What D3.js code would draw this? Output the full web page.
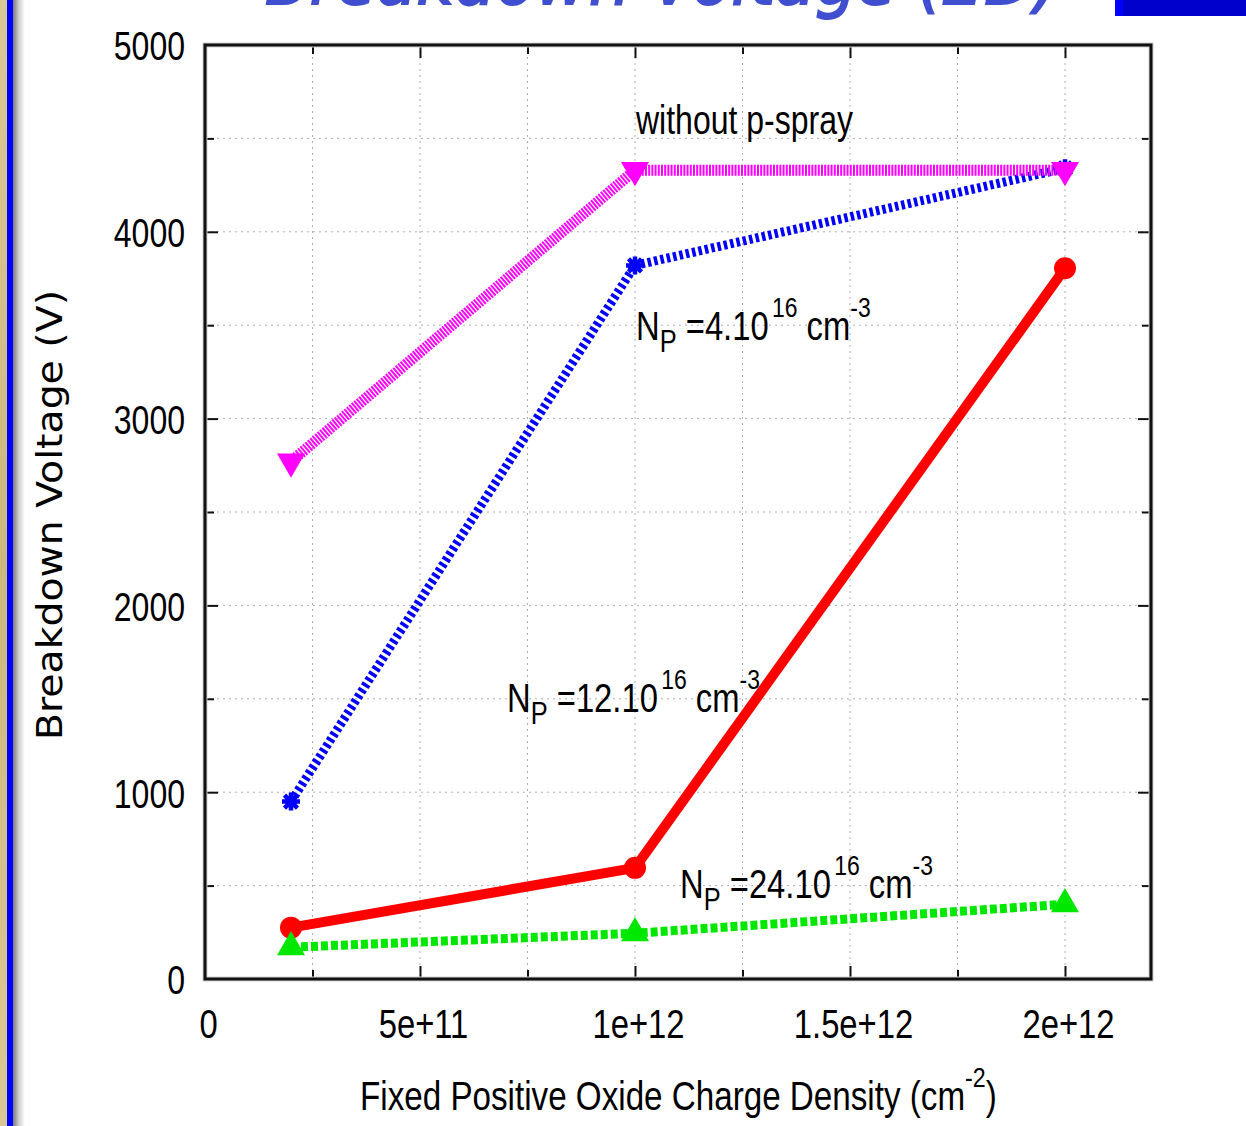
<!DOCTYPE html>
<html>
<head>
<meta charset="utf-8">
<script src="https://cdn.jsdelivr.net/npm/d3@7"></script>
<style>
  html, body { margin: 0; padding: 0; background: #fff; }
  svg { display: block; }
</style>
</head>
<body>
<div id="chart"></div>
<script>
// ---------------- data ----------------
const xValues = [2e11, 1e12, 2e12];
const withoutPSpray = [2770, 4330, 4330];   // magenta, triangle down
const np4 = [950, 3820, 4340];              // blue, star
const np12 = [275, 595, 3805];              // red, circle
const np24 = [170, 245, 400];               // green, triangle up

const xTickValues = [0, 5e11, 1e12, 1.5e12, 2e12];
const xTickLabels = ["0", "5e+11", "1e+12", "1.5e+12", "2e+12"];
const xMinorTicks = [2.5e11, 7.5e11, 1.25e12, 1.75e12];
const yTickValues = [0, 1000, 2000, 3000, 4000, 5000];
const yMinorTicks = [500, 1500, 2500, 3500, 4500];

const titleText = "Breakdown Voltage (2D)";
const xAxisTitle = "Fixed Positive Oxide Charge Density (cm";
const yAxisTitle = "Breakdown Voltage (V)";

// ---------------- layout ----------------
const W = 1246, H = 1126;
const plot = { left: 205, right: 1151, top: 45, bottom: 979 };
const CONDENSE = 0.8;
const FONT = "'Liberation Sans', Arial, Helvetica, sans-serif";

const svg = d3.select("#chart").append("svg")
  .attr("width", W).attr("height", H)
  .attr("viewBox", `0 0 ${W} ${H}`);

svg.append("rect").attr("width", W).attr("height", H).attr("fill", "#fff");

// slide decorations: left strip, blue bar, shadow
const defs = svg.append("defs");
const sh = defs.append("linearGradient").attr("id", "shadow").attr("x1", 0).attr("x2", 1).attr("y1", 0).attr("y2", 0);
sh.append("stop").attr("offset", 0).attr("stop-color", "#7a7a7a");
sh.append("stop").attr("offset", 0.5).attr("stop-color", "#d0d0d0");
sh.append("stop").attr("offset", 1).attr("stop-color", "#ffffff");
const tan = defs.append("linearGradient").attr("id", "tan").attr("x1", 0).attr("x2", 0).attr("y1", 0).attr("y2", 1);
tan.append("stop").attr("offset", 0).attr("stop-color", "#d9c897");
tan.append("stop").attr("offset", 0.5).attr("stop-color", "#cdb87c");
tan.append("stop").attr("offset", 1).attr("stop-color", "#dac894");
svg.append("rect").attr("x", 0).attr("y", 0).attr("width", 7).attr("height", H).attr("fill", "url(#tan)");
svg.append("rect").attr("x", 7).attr("y", 0).attr("width", 6).attr("height", H).attr("fill", "#0000ff");
svg.append("rect").attr("x", 13).attr("y", 0).attr("width", 12).attr("height", H).attr("fill", "url(#shadow)");

// top right blue bar
svg.append("rect").attr("x", 1115).attr("y", 0).attr("width", W - 1115).attr("height", 16).attr("fill", "#0000cc");
svg.append("rect").attr("x", 1115).attr("y", 0).attr("width", 8).attr("height", 16).attr("fill", "#0000ff");

// clipped title (only bottom visible, as in the slide)
svg.append("text")
  .attr("x", 265).attr("y", 4)
  .attr("font-family", "'DejaVu Sans', sans-serif")
  .attr("font-style", "italic")
  .attr("font-size", 72)
  .attr("stroke", "#3f4fd0").attr("stroke-width", 2)
  .attr("fill", "#3f4fd0")
  .attr("textLength", 795)
  .attr("lengthAdjust", "spacingAndGlyphs")
  .text(titleText);

// ---------------- scales ----------------
const x = d3.scaleLinear().domain([0, 2.2e12]).range([plot.left, plot.right]);
const y = d3.scaleLinear().domain([0, 5000]).range([plot.bottom, plot.top]);

// grid
const grid = svg.append("g").attr("stroke", "#b0b0b0").attr("stroke-width", 1).attr("stroke-dasharray", "2,4");
grid.selectAll("line.v").data(xMinorTicks.concat([5e11, 1e12, 1.5e12, 2e12]))
  .join("line").attr("class", "v")
  .attr("x1", d => x(d)).attr("x2", d => x(d))
  .attr("y1", plot.top).attr("y2", plot.bottom);
grid.selectAll("line.h").data(yMinorTicks.concat([1000, 2000, 3000, 4000]))
  .join("line").attr("class", "h")
  .attr("x1", plot.left).attr("x2", plot.right)
  .attr("y1", d => y(d)).attr("y2", d => y(d));

// ---------------- axes ----------------
function styleAxis(g) {
  g.select(".domain").remove();
  g.selectAll(".tick line").attr("stroke", "#111").attr("stroke-width", 2);
}
const MAJ = 13, MIN = 9;

// bottom
const gxB = svg.append("g").attr("transform", `translate(0,${plot.bottom})`)
  .call(d3.axisBottom(x).tickValues(xTickValues).tickSizeInner(-MAJ).tickSizeOuter(0)
    .tickFormat((d, i) => xTickLabels[i]));
styleAxis(gxB);
gxB.selectAll(".tick text")
  .attr("y", null).attr("dy", null)
  .attr("transform", `translate(3,59) scale(${CONDENSE},1)`)
  .attr("text-anchor", "middle")
  .attr("font-family", FONT).attr("font-size", 41).attr("fill", "#000");
svg.append("g").attr("transform", `translate(0,${plot.bottom})`)
  .call(d3.axisBottom(x).tickValues(xMinorTicks).tickSizeInner(-MIN).tickSizeOuter(0).tickFormat(""))
  .call(styleAxis);

// top (mirror)
svg.append("g").attr("transform", `translate(0,${plot.top})`)
  .call(d3.axisTop(x).tickValues(xTickValues).tickSizeInner(-MAJ).tickSizeOuter(0).tickFormat(""))
  .call(styleAxis);
svg.append("g").attr("transform", `translate(0,${plot.top})`)
  .call(d3.axisTop(x).tickValues(xMinorTicks).tickSizeInner(-MIN).tickSizeOuter(0).tickFormat(""))
  .call(styleAxis);

// left
const gyL = svg.append("g").attr("transform", `translate(${plot.left},0)`)
  .call(d3.axisLeft(y).tickValues(yTickValues).tickSizeInner(-MAJ).tickSizeOuter(0).tickFormat(d => String(d)));
styleAxis(gyL);
gyL.selectAll(".tick text")
  .attr("x", null).attr("dy", null)
  .attr("dominant-baseline", "central")
  .attr("transform", `translate(-20,1) scale(${CONDENSE},1)`)
  .attr("text-anchor", "end")
  .attr("font-family", FONT).attr("font-size", 40).attr("fill", "#000");
svg.append("g").attr("transform", `translate(${plot.left},0)`)
  .call(d3.axisLeft(y).tickValues(yMinorTicks).tickSizeInner(-MIN).tickSizeOuter(0).tickFormat(""))
  .call(styleAxis);

// right (mirror)
svg.append("g").attr("transform", `translate(${plot.right},0)`)
  .call(d3.axisRight(y).tickValues(yTickValues).tickSizeInner(-MAJ).tickSizeOuter(0).tickFormat(""))
  .call(styleAxis);
svg.append("g").attr("transform", `translate(${plot.right},0)`)
  .call(d3.axisRight(y).tickValues(yMinorTicks).tickSizeInner(-MIN).tickSizeOuter(0).tickFormat(""))
  .call(styleAxis);

// frame
svg.append("rect")
  .attr("x", plot.left).attr("y", plot.top)
  .attr("width", plot.right - plot.left).attr("height", plot.bottom - plot.top)
  .attr("fill", "none").attr("stroke", "#cfcfcf").attr("stroke-width", 5);
svg.append("rect")
  .attr("x", plot.left).attr("y", plot.top)
  .attr("width", plot.right - plot.left).attr("height", plot.bottom - plot.top)
  .attr("fill", "none").attr("stroke", "#111").attr("stroke-width", 3);

// ---------------- series ----------------
const line = d3.line().x((d, i) => x(xValues[i])).y(d => y(d));

const series = [
  { vals: np12, color: "#ff0000", width: 10, dash: null, marker: "circle" },
  { vals: np24, color: "#00e800", width: 9, dash: "7,3", marker: "triUp" },
  { vals: np4, color: "#0000ff", width: 9, dash: "3.5,3", marker: "star" },
  { vals: withoutPSpray, color: "#ff00ff", width: 11, dash: "2,1.2", marker: "triDown" }
];

const triSym = d3.symbol().type(d3.symbolTriangle).size(340);
series.forEach(s => {
  const g = svg.append("g");
  g.append("path").datum(s.vals)
    .attr("d", line)
    .attr("fill", "none")
    .attr("stroke", s.color)
    .attr("stroke-width", s.width)
    .attr("stroke-dasharray", s.dash)
    .attr("stroke-linejoin", "round")
    .attr("stroke-linecap", s.dash ? "butt" : "round");
  const pts = g.selectAll("g.pt").data(s.vals).join("g")
    .attr("transform", (d, i) => `translate(${x(xValues[i])},${y(d)})`);
  if (s.marker === "circle") {
    pts.append("circle").attr("r", 11).attr("fill", s.color);
  } else if (s.marker === "triUp") {
    pts.append("path").attr("d", triSym).attr("fill", s.color);
  } else if (s.marker === "triDown") {
    pts.append("path").attr("d", triSym).attr("transform", "rotate(180)").attr("fill", s.color);
  } else if (s.marker === "star") {
    pts.append("circle").attr("r", 5.5).attr("fill", s.color);
    pts.append("path")
      .attr("d", "M-9,0L9,0M0,-9L0,9M-6.5,-6.5L6.5,6.5M-6.5,6.5L6.5,-6.5")
      .attr("stroke", s.color).attr("stroke-width", 4.5).attr("fill", "none");
  }
});

// ---------------- annotations ----------------
function label(xp, yp, parts, anchor, condense) {
  const t = svg.append("text")
    .attr("transform", `translate(${xp},${yp}) scale(${condense || CONDENSE},1)`)
    .attr("font-family", FONT).attr("font-size", 40).attr("fill", "#000")
    .attr("text-anchor", anchor || "start");
  let shift = 0;
  parts.forEach(p => {
    const ts = t.append("tspan").text(p.t);
    let target = 0, size = 40;
    if (p.k === "sub") { target = 12; size = 31; }
    if (p.k === "sup") { target = -23; size = 28; }
    ts.attr("font-size", size).attr("dy", target - shift);
    if (p.dx) ts.attr("dx", p.dx);
    shift = target;
  });
  return t;
}

label(636, 134, [{ t: "without p-spray" }]);
function npLabel(xp, yp, val) {
  return label(xp, yp, [
    { t: "N" }, { t: "P", k: "sub" }, { t: " =" + val + ".10" },
    { t: "16", k: "sup", dx: 4 }, { t: " cm" }, { t: "-3", k: "sup" }
  ], "start", 0.82);
}
npLabel(636, 340, "4");
npLabel(507, 712, "12");
npLabel(680, 898, "24");

// axis titles
label(360, 1110, [{ t: xAxisTitle }, { t: "-2", k: "sup" }, { t: ")" }], "start", 0.83);

svg.append("text")
  .attr("transform", `translate(62,${515}) rotate(-90)`)
  .attr("text-anchor", "middle")
  .attr("font-family", "'DejaVu Sans', Verdana, sans-serif")
  .attr("font-size", 35)
  .attr("textLength", 450)
  .attr("lengthAdjust", "spacingAndGlyphs")
  .attr("fill", "#000")
  .text(yAxisTitle);
</script>
</body>
</html>
